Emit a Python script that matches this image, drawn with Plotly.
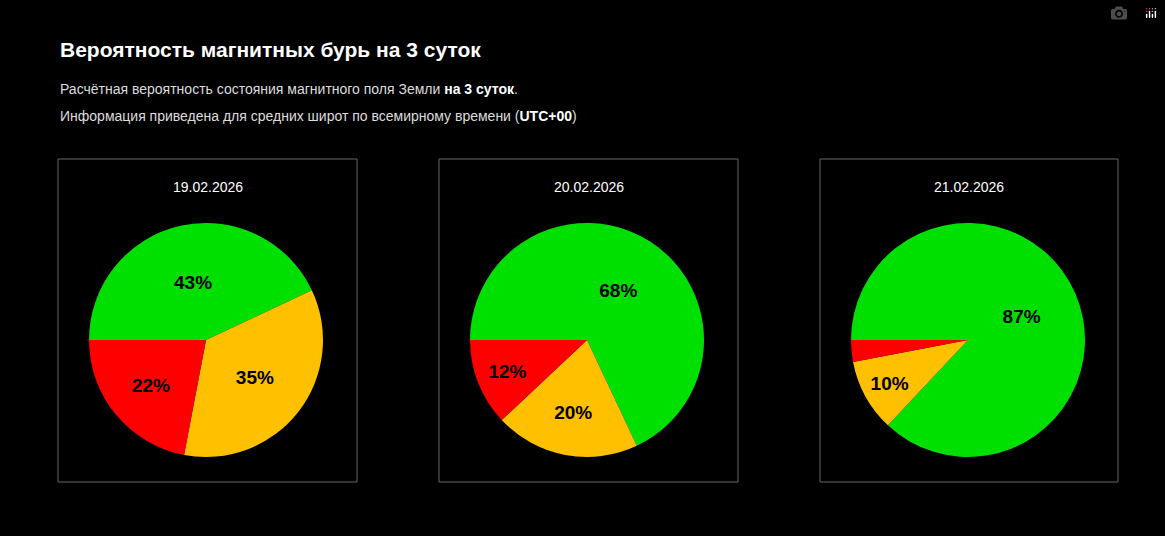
import plotly.graph_objects as go

dates = ["19.02.2026", "20.02.2026", "21.02.2026"]
green = [43, 68, 87]
yellow = [35, 20, 10]
red = [22, 12, 3]
colors = ["#00e000", "#ffc000", "#ff0000"]

W, H = 1165, 536
fig = go.Figure()
centers = [206, 587, 968]
boxes = [(58, 357), (439, 738), (820, 1118)]
R = 117
cy = 340
for i in range(3):
    vals = [green[i], yellow[i], red[i]]
    tt = [f"<b>{v}%</b>" if v >= 5 else "" for v in vals]
    cx = centers[i]
    fig.add_trace(go.Pie(
        values=vals, labels=["g", "y", "r"], sort=False, direction="clockwise",
        rotation=270, marker=dict(colors=colors, line=dict(width=0)),
        text=tt, texttemplate="%{text}", textinfo="text", textposition="inside",
        insidetextorientation="horizontal",
        textfont=dict(family="Liberation Sans, Arial", size=19, color="#000"),
        domain=dict(x=[(cx - R) / W, (cx + R) / W], y=[1 - (cy + R) / H, 1 - (cy - R) / H]),
        showlegend=False, hoverinfo="skip"))
    x0, x1 = boxes[i]
    fig.add_shape(type="rect", xref="paper", yref="paper", x0=x0 / W, x1=x1 / W,
                  y0=1 - 482 / H, y1=1 - 159 / H, line=dict(color="#666", width=1))
    fig.add_annotation(xref="paper", yref="paper", x=(x0 + x1) / 2 / W, y=1 - 187 / H,
                       text=dates[i], showarrow=False, xanchor="center", yanchor="middle",
                       font=dict(family="Liberation Sans, Arial", size=14, color="#fff"))

fig.add_annotation(xref="paper", yref="paper", x=58 / W, y=1 - 50 / H, xanchor="left", yanchor="middle",
                   showarrow=False, text="<b>Вероятность магнитных бурь на 3 суток</b>",
                   font=dict(family="Liberation Sans, Arial", size=21, color="#fff"))
fig.add_annotation(xref="paper", yref="paper", x=58 / W, y=1 - 89 / H, xanchor="left", yanchor="middle",
                   showarrow=False,
                   text="Расчётная вероятность состояния магнитного поля Земли <b><span style='color:#fff'>на 3 суток</span></b>.",
                   font=dict(family="Liberation Sans, Arial", size=14, color="#ddd"))
fig.add_annotation(xref="paper", yref="paper", x=58 / W, y=1 - 116 / H, xanchor="left", yanchor="middle",
                   showarrow=False,
                   text="Информация приведена для средних широт по всемирному времени (<b><span style='color:#fff'>UTC+00</span></b>)",
                   font=dict(family="Liberation Sans, Arial", size=14, color="#ddd"))

fig.update_layout(width=W, height=H, margin=dict(l=0, r=0, t=0, b=0),
                  paper_bgcolor="#000", plot_bgcolor="#000")
fig.write_html("out.html",
               post_script="document.body.style.margin='0';document.body.style.background='#000';document.body.style.overflow='hidden';")
